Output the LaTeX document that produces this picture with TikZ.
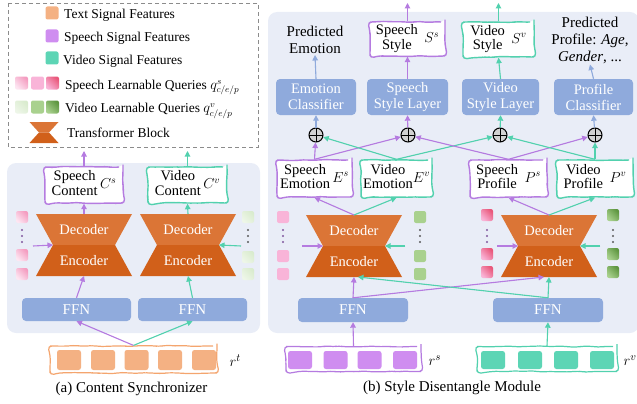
\documentclass[tikz,border=0pt]{standalone}
\usepackage{fontspec}
\setmainfont{Liberation Serif}
\usetikzlibrary{arrows.meta,decorations.pathmorphing}
\definecolor{panelbg}{HTML}{E9EDF7}
\definecolor{blockblue}{HTML}{8FAADC}
\definecolor{purpline}{HTML}{B57BE0}
\definecolor{purpfill}{HTML}{CF8DF0}
\definecolor{tealline}{HTML}{52D1AE}
\definecolor{tealfill}{HTML}{5DD5B5}
\definecolor{orfill}{HTML}{F4B183}
\definecolor{orline}{HTML}{F4A56E}
\definecolor{deccol}{HTML}{DB7536}
\definecolor{enccol}{HTML}{D1601A}
\definecolor{pinkL}{HTML}{FDE6F2}
\definecolor{pinkA}{HTML}{F49CC0}
\definecolor{pinkM}{HTML}{F9B4D8}
\definecolor{pinkD}{HTML}{E9577A}
\definecolor{greenL}{HTML}{E2F0D9}
\definecolor{greenM}{HTML}{A9D18E}
\definecolor{greenD}{HTML}{5E9640}
\definecolor{legline}{HTML}{8C8C8C}
\newcommand\myfs{\fontsize{14.5}{16}\selectfont}
\newcommand\legfs{\fontsize{13.5}{15}\selectfont}
\newcommand\bigfs{\fontsize{15}{17}\selectfont}
\renewcommand\arraystretch{0.92}
\tikzset{
  arr/.style={line width=1.1pt,-{Triangle[length=5.5pt,width=5.5pt]}},
  parr/.style={arr,draw=purpline,fill=purpline},
  tarr/.style={arr,draw=tealline,fill=tealline},
  barr/.style={arr,draw=blockblue,fill=blockblue},
  wavy/.style={draw=#1,line width=1.4pt,rounded corners=4pt,fill=white,
    decorate,decoration={random steps,segment length=6pt,amplitude=0.6pt},
    align=center,inner sep=1pt},
  block/.style={fill=blockblue,rounded corners=4pt,text=white,align=center,inner sep=1pt},
  sq/.style={rounded corners=2pt,minimum size=12pt,inner sep=0pt},
  qpA/.style={sq,top color=pinkL,bottom color=pinkA,shading angle=135},
  qpB/.style={sq,fill=pinkM},
  qpC/.style={sq,top color=pinkM,bottom color=pinkD,shading angle=135},
  qgA/.style={sq,top color=greenL!60!white,bottom color=greenL!85!greenM,shading angle=135},
  qgB/.style={sq,fill=greenM},
  qgC/.style={sq,top color=greenM,bottom color=greenD,shading angle=135},
  ttext/.style={text=white,inner sep=0pt},
  legtext/.style={anchor=west,font=\legfs,inner sep=1pt},
  oplus/.style={circle,draw=black,fill=gray!35,line width=1pt,minimum size=14pt,inner sep=0pt,
    path picture={\draw[line width=1pt] (path picture bounding box.north) -- (path picture bounding box.south)
      (path picture bounding box.west) -- (path picture bounding box.east);}},
  sig/.style={rounded corners=2.5pt,minimum width=24pt,minimum height=20pt,inner sep=0pt},
}
\newcommand\hourglass[3]{%
  \begin{scope}[shift={(#2,#3)}]
    \fill[deccol] (-48,0) -- (48,0) -- (31,31) -- (-31,31) -- cycle;
    \fill[enccol] (-31,31) -- (31,31) -- (48,62) -- (-48,62) -- cycle;
    \node[ttext] (dec#1) at (0,16) {Decoder};
    \node[ttext] (enc#1) at (0,47) {Encoder};
    \coordinate (top#1) at (0,0);
    \coordinate (bot#1) at (0,62);
    \coordinate (wl#1) at (-31,31);
    \coordinate (wr#1) at (31,31);
  \end{scope}}
\newcommand\qdots[4]{%
  \foreach \k/\yy in {1/230,2/236,3/242}{\fill[#4] (#2,\yy) circle (1.1pt) coordinate (#1\k);}}
\begin{document}
\begin{tikzpicture}[x=1pt,y=-1pt,every node/.style={font=\myfs}]
\useasboundingbox (0,0) rectangle (637,404);
% ---------- panels
\fill[panelbg,rounded corners=9pt] (7,163) rectangle (260,333);
\begin{scope}
  \clip (0,0) rectangle (637,404);
  \fill[panelbg,rounded corners=9pt] (268,12) rectangle (639,333);
\end{scope}
% ---------- legend
\draw[legline,line width=0.8pt,dash pattern=on 4pt off 3pt] (8,3) rectangle (258,147);
\node[sq,minimum size=13pt,fill=orfill] (lg1) at (52,13) {};
\node[sq,minimum size=13pt,fill=purpfill] (lg2) at (52,36) {};
\node[sq,minimum size=13pt,fill=tealfill] (lg3) at (52,58) {};
\node[legtext] (lt1) at (63,15) {Text Signal Features};
\node[legtext] (lt2) at (63,38) {Speech Signal Features};
\node[legtext] (lt3) at (62,61) {Video Signal Features};
\node[qpA,minimum size=13pt] (lq1) at (21.5,83) {};
\node[qpB,minimum size=13pt] (lq2) at (37.5,83) {};
\node[qpC,minimum size=13pt] (lq3) at (52.5,83) {};
\node[legtext] (lt4) at (64,86) {Speech Learnable Queries \smash{$q^{s}_{c/e/p}$}};
\node[qgA,minimum size=13pt] (lv1) at (21.5,107) {};
\node[qgB,minimum size=13pt] (lv2) at (37.5,107) {};
\node[qgC,minimum size=13pt] (lv3) at (52.5,107) {};
\node[legtext] (lt5) at (64,109) {Video Learnable Queries \smash{$q^{v}_{c/e/p}$}};
\fill[deccol] (29.5,122) -- (58.5,122) -- (49,132.5) -- (39,132.5) -- cycle;
\fill[enccol] (39,132.5) -- (49,132.5) -- (58.5,143) -- (29.5,143) -- cycle;
\node[legtext] (lt6) at (66,133) {Transformer Block};
% ---------- panel (a)
\hourglass{1}{84}{214}
\hourglass{2}{188}{214}
\node[wavy=purpline,minimum width=78pt,minimum height=36pt] (sc) at (84,185)
  {\begin{tabular}{@{}c@{}}Speech\\Content\end{tabular}\,$C^{s}$};
\node[wavy=tealline,minimum width=79pt,minimum height=36pt] (vc) at (187.5,185)
  {\begin{tabular}{@{}c@{}}Video\\Content\end{tabular}\,$C^{v}$};
\node[block,font=\bigfs,minimum width=109pt,minimum height=23pt] (ffn1) at (76.5,309.5) {FFN};
\node[block,font=\bigfs,minimum width=109pt,minimum height=23pt] (ffn2) at (192.5,309.5) {FFN};
\node[wavy=orline,line width=1.2pt,minimum width=167pt,minimum height=27pt] (rt) at (133.5,359.5) {};
\foreach \i/\xx in {1/69,2/103,3/136.5,4/170,5/204}{\node[sig,fill=orfill] (rt\i) at (\xx,360) {};}
\node[anchor=west,font=\bigfs] (rtl) at (226,361) {$r^{t}$};
\node[font=\bigfs] (capa) at (131.5,389) {(a) Content Synchronizer};
% queries (a)
\node[qpA] (qa1) at (22,217) {};
\qdots{da}{22}{}{purpline!70!black}
\node[qpA] (qa2) at (22,255) {};
\node[qpA] (qa3) at (22,274) {};
\node[qgA] (qb1) at (248,217) {};
\qdots{db}{248}{}{black!65}
\node[qgA] (qb2) at (248,257) {};
\node[qgA] (qb3) at (248,274) {};
\coordinate (ina1) at (33,246);
\coordinate (ina2) at (241,246);
\coordinate (outa1) at (84,151);
\coordinate (outa2) at (187.5,151);
% arrows (a)
\draw[parr] (rt.north) -- (ffn1.south);
\draw[tarr] (rt.north) -- (ffn2.south);
\draw[parr] (ffn1.north) -- (bot1);
\draw[tarr] (ffn2.north) -- (bot2);
\draw[parr] (ina1) -- (wl1);
\draw[tarr] (ina2) -- (wr2);
\draw[parr] (top1) -- (sc.south);
\draw[tarr] (top2) -- (vc.south);
\draw[parr] (sc.north) -- (outa1);
\draw[tarr] (vc.north) -- (outa2);
% ---------- panel (b)
\hourglass{3}{354}{215}
\hourglass{4}{549}{215}
\node[wavy=purpline,minimum width=75pt,minimum height=37pt] (se) at (314.5,178.5)
  {\begin{tabular}{@{}c@{}}Speech\\Emotion\end{tabular}\,$E^{s}$};
\node[wavy=tealline,minimum width=71pt,minimum height=37pt] (ve) at (396.5,178.5)
  {\begin{tabular}{@{}c@{}}Video\\Emotion\end{tabular}$E^{v}$};
\node[wavy=purpline,minimum width=77pt,minimum height=37pt] (sp) at (508.5,178.5)
  {\begin{tabular}{@{}c@{}}Speech\\Profile\end{tabular}\;\,$P^{s}$};
\node[wavy=tealline,minimum width=76pt,minimum height=37pt] (vp) at (595,178.5)
  {\begin{tabular}{@{}c@{}}Video\\Profile\end{tabular}\;\,$P^{v}$};
\node[oplus] (op1) at (316,135) {};
\node[oplus] (op2) at (408,135) {};
\node[oplus] (op3) at (500,135) {};
\node[oplus] (op4) at (595,135) {};
\node[block,minimum width=80pt,minimum height=36pt] (ec) at (316,97) {Emotion\\Classifier};
\node[block,minimum width=81pt,minimum height=36pt] (ssl) at (407.5,97) {Speech\\Style Layer};
\node[block,minimum width=77pt,minimum height=36pt] (vsl) at (500.5,97) {Video\\Style Layer};
\node[block,minimum width=79pt,minimum height=36pt] (pc) at (593.5,97) {Profile\\Classifier};
\node[wavy=purpline,minimum width=75pt,minimum height=34pt] (ss) at (407.5,39)
  {\begin{tabular}{@{}c@{}}Speech\\Style\end{tabular}\;\,$S^{s}$};
\node[wavy=tealline,minimum width=71pt,minimum height=35pt] (vs) at (498.5,39.5)
  {\begin{tabular}{@{}c@{}}Video\\Style\end{tabular}\;\,$S^{v}$};
\node[align=center,inner sep=1pt,font=\bigfs] (pe) at (315,40) {Predicted\\Emotion};
\node[align=center,inner sep=1pt,font=\bigfs] (pp) at (590,40) {Predicted\\Profile: \textit{Age},\\\textit{Gender}, ...};
\node[block,font=\bigfs,minimum width=110pt,minimum height=24pt] (ffn3) at (353,310) {FFN};
\node[block,font=\bigfs,minimum width=110pt,minimum height=24pt] (ffn4) at (548,310) {FFN};
\node[wavy=purpline,line width=1.2pt,minimum width=135pt,minimum height=25pt] (rs) at (353.5,359) {};
\foreach \i/\xx in {1/300,2/335.5,3/369.5,4/405}{\node[sig,fill=purpfill,minimum height=18pt] (rs\i) at (\xx,360) {};}
\node[wavy=tealline,line width=1.2pt,minimum width=140pt,minimum height=25pt] (rv) at (547,359) {};
\foreach \i/\xx in {1/493,2/530,3/566,4/602}{\node[sig,fill=tealfill,minimum height=18pt] (rv\i) at (\xx,360) {};}
\node[anchor=west,font=\bigfs] (rsl) at (425,361) {$r^{s}$};
\node[anchor=west,font=\bigfs] (rvl) at (620,361) {$r^{v}$};
\node[font=\bigfs] (capb) at (452,388) {(b) Style Disentangle Module};
% queries (b)
\node[qpB] (qc1) at (283,217) {};
\qdots{dc}{283}{}{purpline!70!black}
\node[qpB] (qc2) at (283,256) {};
\node[qpB] (qc3) at (283,274) {};
\node[qgB] (qd1) at (420,217) {};
\qdots{dd}{420}{}{black!65}
\node[qgB] (qd2) at (420,256) {};
\node[qgB] (qd3) at (420,274) {};
\node[qpC] (qe1) at (487,215) {};
\qdots{de}{487}{}{purpline!70!black}
\node[qpC] (qe2) at (487,254) {};
\node[qpC] (qe3) at (487,272) {};
\node[qgC] (qf1) at (613,215) {};
\qdots{df}{613}{}{black!65}
\node[qgC] (qf2) at (613,254) {};
\node[qgC] (qf3) at (613,272) {};
\coordinate (inb1) at (302,246);
\coordinate (inb2) at (405,246);
\coordinate (inb3) at (497,246);
\coordinate (inb4) at (600,246);
\coordinate (outb1) at (407.5,3);
\coordinate (outb2) at (498.5,3);
% arrows (b)
\draw[parr] (rs.north) -- (ffn3.south);
\draw[tarr] (rv.north) -- (ffn4.south);
\draw[parr] (ffn3.north) -- (bot3);
\draw[parr] (ffn3.north) -- ([xshift=-5pt]bot4);
\draw[tarr] (ffn4.north) -- (bot4);
\draw[tarr] (ffn4.north) -- ([xshift=4pt]bot3);
\draw[parr] (inb1) -- (wl3);
\draw[tarr] (inb2) -- (wr3);
\draw[parr] (inb3) -- (wl4);
\draw[tarr] (inb4) -- (wr4);
\draw[parr] (top3) -- (se.south);
\draw[tarr] (top3) -- (ve.south);
\draw[parr] (top4) -- (sp.south);
\draw[tarr] (top4) -- (vp.south);
\draw[parr] (se.north) -- (op1);
\draw[parr] (se.north) -- (op2);
\draw[tarr] (ve.north) -- (op1);
\draw[tarr] (ve.north) -- (op3);
\draw[parr] (sp.north) -- (op2);
\draw[parr] (sp.north) -- (op4);
\draw[tarr] (vp.north) -- (op3);
\draw[tarr] (vp.north) -- (op4);
\draw[barr] (op1) -- (ec.south);
\draw[parr] (op2) -- (ssl.south);
\draw[tarr] (op3) -- (vsl.south);
\draw[barr] (op4) -- (pc.south);
\draw[barr] (ec.north) -- (pe.south);
\draw[barr] (pc.north) -- (pp.south);
\draw[parr] (ssl.north) -- (ss.south);
\draw[tarr] (vsl.north) -- (vs.south);
\draw[parr] (ss.north) -- (outb1);
\draw[tarr] (vs.north) -- (outb2);
\end{tikzpicture}
\end{document}
